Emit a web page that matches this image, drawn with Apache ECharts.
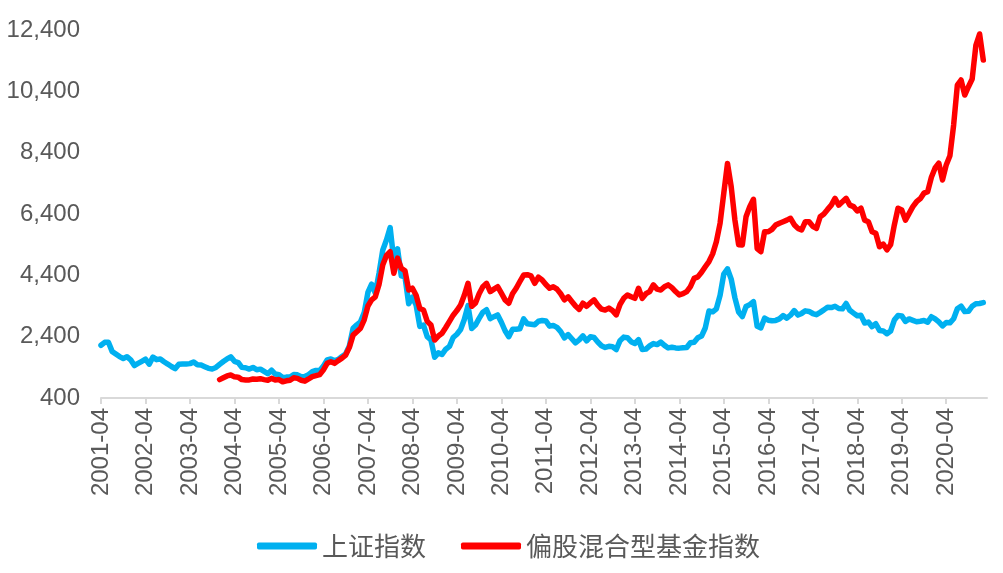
<!DOCTYPE html>
<html><head><meta charset="utf-8">
<script src="https://cdn.jsdelivr.net/npm/echarts@6/dist/echarts.min.js"></script>
<style>html,body{margin:0;padding:0;background:#fff}#c{width:1003px;height:573px}</style>
</head><body><div id="c"></div>
<script>
// Month categories 2001-04 .. 2021-03
const startYear = 2001, startMonth = 4, monthCount = 240;
const categories = [];
for (let i = 0; i < monthCount; i++) {
  const m = startMonth - 1 + i;
  const y = startYear + Math.floor(m / 12);
  const mm = (m % 12) + 1;
  categories.push(y + '-' + (mm < 10 ? '0' + mm : mm));
}
const yTicks = [400, 2400, 4400, 6400, 8400, 10400, 12400];
const seriesNames = ['上证指数', '偏股混合型基金指数'];

// 上证指数 monthly, 2001-04 .. 2021-02
const shIndex = [
  2119,2214,2218,1920,1834,1750,1690,1747,1646,
  1459,1526,1595,1665,1503,1733,1651,1669,1582,1507,1427,1358,
  1500,1512,1511,1521,1576,1487,1477,1422,1367,1348,1397,1497,
  1591,1675,1742,1596,1556,1399,1386,1342,1397,1321,1341,1267,
  1192,1306,1181,1159,1061,1081,1083,1163,1156,1093,1099,1161,
  1258,1299,1298,1440,1641,1672,1613,1659,1752,1838,2099,2675,
  2786,2882,3184,3841,4110,3821,4471,5219,5552,5955,4871,5262,
  4383,4349,3473,3693,3433,2736,2775,2397,2293,1729,1872,1821,
  1991,2083,2373,2478,2633,2959,3412,2668,2779,2996,3195,3277,
  2989,3052,3109,2871,2592,2398,2638,2639,2656,2979,2820,2808,
  2791,2905,2928,2912,2743,2762,2702,2567,2359,2468,2333,2199,
  2293,2428,2263,2396,2372,2225,2104,2048,2086,2069,1980,2269,
  2385,2366,2237,2178,2301,1979,1994,2098,2175,2142,2221,2116,
  2033,2056,2033,2026,2039,2048,2202,2217,2364,2420,2683,3235,
  3210,3310,3748,4442,4612,4277,3664,3206,3053,3383,3445,3539,
  2738,2688,3004,2938,2917,2930,2979,3085,3005,3100,3250,3104,
  3159,3242,3223,3155,3117,3192,3273,3361,3349,3393,3317,3307,
  3481,3259,3169,3082,3095,2847,2876,2725,2821,2603,2588,2494,
  2585,2941,3091,3078,2899,2979,2933,2886,2905,2929,2872,3050,
  2977,2880,2750,2860,2852,2985,3310,3396,3218,3225,3392,3473,
  3483,3509
];

// 偏股混合型基金指数 monthly, starts 2003-12 (earlier months empty)
const fundIndex = [
  null,null,null,null,null,null,null,null,null,
  null,null,null,null,null,null,null,null,null,null,null,null,
  null,null,null,null,null,null,null,null,null,null,null,1000,
  1060,1120,1150,1090,1080,1000,990,990,1020,1010,1030,1000,
  980,1040,990,1000,930,960,980,1060,1040,980,950,1020,
  1095,1130,1160,1320,1530,1585,1530,1620,1700,1800,2050,2450,
  2560,2675,2950,3400,3600,3700,4100,4740,5050,5170,4470,4960,
  4630,4550,3920,3980,3750,3320,3270,2900,2780,2290,2420,2510,
  2700,2900,3100,3250,3430,3750,4140,3390,3490,3800,4030,4140,
  3870,3950,4030,3820,3600,3490,3800,3980,4200,4410,4420,4380,
  4140,4340,4250,4100,3980,4030,3950,3800,3600,3700,3550,3400,
  3290,3490,3390,3500,3600,3430,3300,3270,3330,3250,3110,3450,
  3650,3760,3700,3650,3980,3650,3800,3870,4090,3950,3920,4030,
  4090,4000,3870,3760,3800,3870,4030,4300,4350,4500,4680,4850,
  5100,5500,6100,7080,8050,7290,6200,5400,5390,6310,6640,6880,
  5270,5170,5820,5820,5900,6040,6100,6150,6200,6260,6050,5930,
  5880,6150,6150,6000,5930,6310,6400,6550,6690,6910,6690,6800,
  6910,6690,6640,6500,6590,6200,6150,5820,5770,5330,5420,5230,
  5400,6040,6590,6530,6200,6420,6640,6800,6900,7080,7130,7600,
  7900,8060,7510,8000,8300,9300,10600,10770,10280,10550,10800,11900,
  12270,11420
];

const textColor = '#595959';
const isApril = (idx, val) => categories[idx].endsWith('-04');
const chart = echarts.init(document.getElementById('c'), null, {renderer: 'canvas'});
chart.setOption({
  animation: false,
  backgroundColor: '#fff',
  grid: {left: 101, right: 16, top: 30, bottom: 175, containLabel: false},
  legend: {
    data: seriesNames,
    bottom: 9,
    left: 252,
    icon: 'roundRect',
    itemWidth: 60,
    itemHeight: 7,
    itemGap: 35,
    textStyle: {fontSize: 26, color: textColor, fontFamily: 'Noto Sans CJK SC', padding: [0, 0, 0, 0]}
  },
  xAxis: {
    type: 'category',
    data: categories,
    boundaryGap: false,
    axisLine: {lineStyle: {color: '#D9D9D9', width: 2}},
    axisTick: {show: true, interval: isApril, length: 6, lineStyle: {color: '#D9D9D9', width: 2}},
    axisLabel: {interval: isApril, rotate: 90, fontSize: 24, color: textColor, margin: 10, fontFamily: 'Liberation Sans'},
    splitLine: {show: false}
  },
  yAxis: {
    type: 'value',
    min: yTicks[0],
    max: yTicks[yTicks.length - 1],
    interval: 2000,
    axisLine: {show: false},
    axisTick: {show: false},
    splitLine: {show: false},
    axisLabel: {
      fontSize: 24, color: textColor, margin: 21, fontFamily: 'Liberation Sans',
      formatter: v => v.toLocaleString('en-US')
    }
  },
  series: [
    {name: seriesNames[0], type: 'line', data: shIndex, symbol: 'none', smooth: false,
     itemStyle: {color: '#00B0F0'},
     lineStyle: {color: '#00B0F0', width: 5.5, cap: 'round', join: 'round'}},
    {name: seriesNames[1], type: 'line', data: fundIndex, symbol: 'none', smooth: false,
     itemStyle: {color: '#FF0000'},
     lineStyle: {color: '#FF0000', width: 5.5, cap: 'round', join: 'round'}}
  ]
});
</script>
</body></html>
